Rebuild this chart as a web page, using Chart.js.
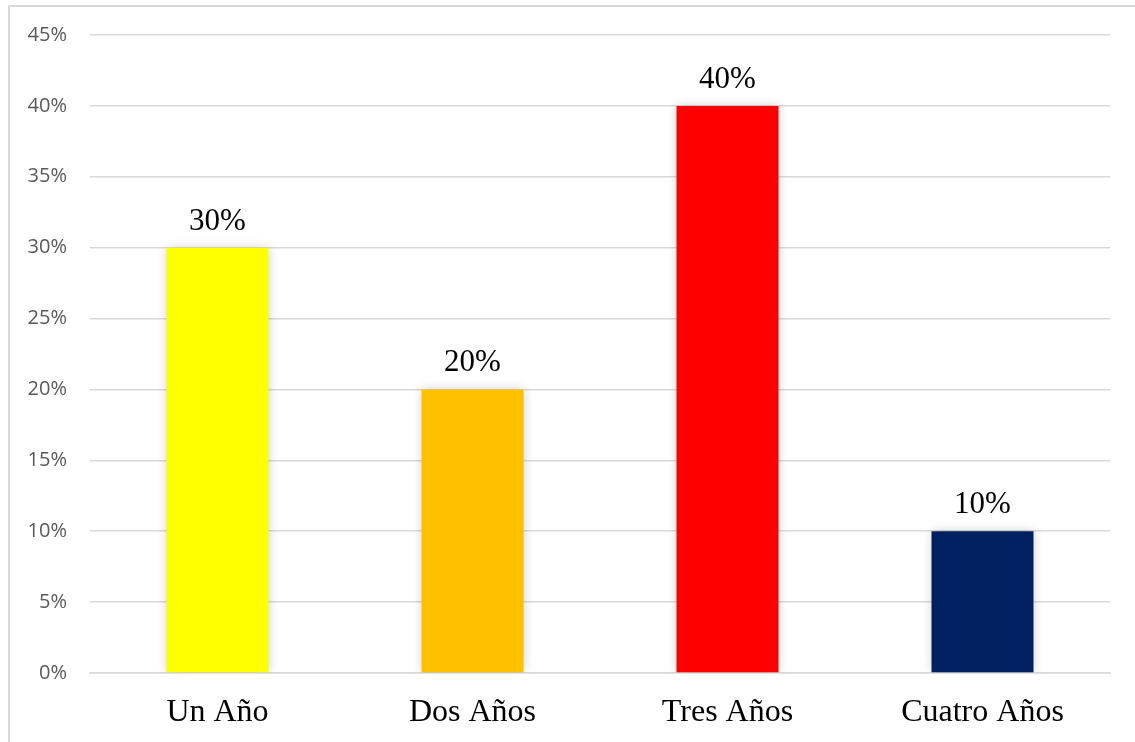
<!DOCTYPE html>
<html>
<head>
<meta charset="utf-8">
<script src="https://cdn.jsdelivr.net/npm/chart.js@4"></script>
<style>
  html, body { margin: 0; padding: 0; background: #ffffff; }
  #wrap { position: relative; width: 1135px; height: 742px; overflow: hidden; }
  #frame { position: absolute; left: 8px; top: 5px; width: 1200px; height: 800px; border-left: 2px solid #d9d9d9; border-top: 2px solid #d9d9d9; box-sizing: border-box; }
  canvas { position: absolute; left: 0; top: 0; }
</style>
</head>
<body>
<div id="wrap">
  <div id="frame"></div>
  <canvas id="c" width="1135" height="742"></canvas>
</div>
<script>
const categories = ["Un Año", "Dos Años", "Tres Años", "Cuatro Años"];
const values = [30, 20, 40, 10];
const barColors = ["#FFFF00", "#FFC000", "#FF0000", "#002060"];
const yTicks = [0, 5, 10, 15, 20, 25, 30, 35, 40, 45];

const shadowPlugin = {
  id: 'barShadow',
  beforeDatasetsDraw(chart) {
    const ctx = chart.ctx;
    ctx.save();
    ctx.shadowColor = 'rgba(0,0,0,0.18)';
    ctx.shadowBlur = 10;
    ctx.shadowOffsetX = 0;
    ctx.shadowOffsetY = 0;
  },
  afterDatasetsDraw(chart) {
    chart.ctx.restore();
    const ctx = chart.ctx;
    const meta = chart.getDatasetMeta(0);
    ctx.save();
    ctx.font = '31px "Liberation Serif", "Times New Roman", serif';
    ctx.fillStyle = '#000000';
    ctx.textAlign = 'center';
    ctx.textBaseline = 'alphabetic';
    meta.data.forEach((bar, i) => {
      ctx.fillText(values[i] + '%', bar.x, bar.y - 18);
    });
    ctx.restore();
  }
};

new Chart(document.getElementById('c'), {
  type: 'bar',
  data: {
    labels: categories,
    datasets: [{
      data: values,
      backgroundColor: barColors,
      borderWidth: 0,
      categoryPercentage: 1.0,
      barPercentage: 0.4
    }]
  },
  options: {
    responsive: false,
    animation: false,
    devicePixelRatio: 1,
    layout: { padding: { top: 34, right: 25, left: 0, bottom: 0 } },
    plugins: { legend: { display: false }, tooltip: { enabled: false } },
    scales: {
      x: {
        grid: { display: false, drawTicks: false },
        border: { display: true, color: '#d9d9d9', width: 1.5 },
        ticks: {
          color: '#000000',
          font: { family: '"Liberation Serif", "Times New Roman", serif', size: 32 },
          padding: 20,
          maxRotation: 0
        },
        afterFit(scale) { scale.height = 69; }
      },
      y: {
        min: 0,
        max: 45,
        afterBuildTicks(scale) { scale.ticks = yTicks.map(v => ({ value: v })); },
        grid: { color: '#d9d9d9', lineWidth: 1.5, drawTicks: false },
        border: { display: false },
        ticks: {
          color: '#595959',
          font: { family: '"Open Sans", "Liberation Sans", sans-serif', size: 20 },
          padding: 23,
          callback: v => v + '%'
        },
        afterFit(scale) { scale.width = 90; }
      }
    }
  },
  plugins: [shadowPlugin]
});
</script>
</body>
</html>
